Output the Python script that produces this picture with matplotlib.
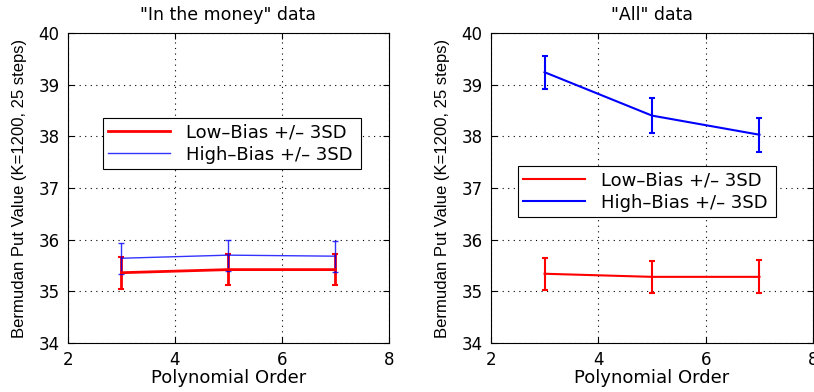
import numpy as np
import matplotlib
matplotlib.use("Agg")
import matplotlib.pyplot as plt
from matplotlib.lines import Line2D

plt.rcParams.update({"font.family": ["DejaVu Sans"], "font.size": 12})

orders = [3, 5, 7]

# "In the money" paths
itm_low = [35.36, 35.42, 35.42]
itm_low_err = [0.31, 0.30, 0.30]
itm_high = [35.64, 35.70, 35.68]
itm_high_err = [0.30, 0.30, 0.30]

# all paths
all_low = [35.34, 35.28, 35.28]
all_low_err = [0.31, 0.31, 0.32]
all_high = [39.24, 38.40, 38.03]
all_high_err = [0.32, 0.34, 0.33]

titles = ['"In the money" data', '"All" data']
legend_labels = ["Low\u2013Bias +/\u2013 3SD", "High\u2013Bias +/\u2013 3SD"]

fig = plt.figure(figsize=(8.14, 3.92), dpi=100)
ax1 = fig.add_axes([0.0835, 0.125, 0.394, 0.791])
ax2 = fig.add_axes([0.603, 0.125, 0.396, 0.791])

ax1.errorbar(orders, itm_low, yerr=itm_low_err, color="red", lw=2, capsize=2,
             capthick=1.5)
ax1.errorbar(orders, itm_high, yerr=itm_high_err, color="blue", lw=1, capsize=2,
             alpha=0.8)
ax2.errorbar(orders, all_low, yerr=all_low_err, color="red", lw=1.5, capsize=2,
             capthick=1.5)
ax2.errorbar(orders, all_high, yerr=all_high_err, color="blue", lw=1.5, capsize=2,
             capthick=1.5)

handles = [
    [Line2D([], [], color="red", lw=2), Line2D([], [], color="blue", lw=1, alpha=0.8)],
    [Line2D([], [], color="red", lw=1.5), Line2D([], [], color="blue", lw=1.5)],
]
legend_box = [(0.109, 0.561, 0.804, 0.17), (0.084, 0.406, 0.80, 0.17)]

for ax, title, hs, lb in zip([ax1, ax2], titles, handles, legend_box):
    ax.set_xlim(2, 8)
    ax.set_ylim(34, 40)
    ax.set_xticks([2, 4, 6, 8])
    ax.set_yticks(range(34, 41))
    ax.grid(True, color="black", ls=(0, (1, 4)), lw=0.8)
    ax.tick_params(direction="in", top=True, right=True, length=4, pad=6,
                   labelsize=12)
    ax.set_title(title, fontsize=12.5, pad=9)
    ax.set_xlabel("Polynomial Order", fontsize=13, labelpad=0)
    ax.set_ylabel("Bermudan Put Value (K=1200, 25 steps)", family="Liberation Sans",
                  fontsize=12, labelpad=8)
    leg = ax.legend(hs, legend_labels, loc="lower left", bbox_to_anchor=lb,
                    mode="expand", borderaxespad=0, fancybox=False,
                    edgecolor="black", framealpha=1, handlelength=3.4,
                    handletextpad=0.9, borderpad=0.3, labelspacing=0.25,
                    fontsize=13)
    leg.get_frame().set_linewidth(0.8)

fig.savefig("out.png", dpi=100)
